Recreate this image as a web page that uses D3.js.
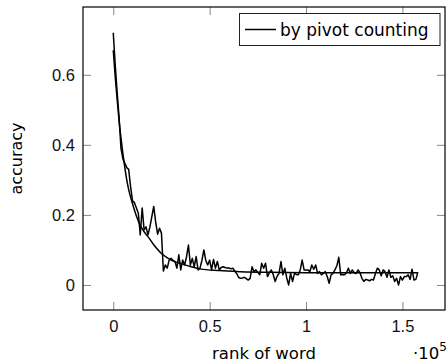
<!DOCTYPE html>
<html>
<head>
<meta charset="UTF-8">
<title>accuracy by rank</title>
<style>
    body { margin: 0; padding: 0; background: #fff; }
    svg { display: block; font-family: "DejaVu Sans", sans-serif; }
    .tick line { stroke: #888; stroke-width: 1; }
    .tick text { font-size: 16.5px; fill: #111; }
</style>
</head>
<body>
<div id="chart"></div>
<script src="https://cdn.jsdelivr.net/npm/d3@7"></script>
<script>
    // data (rank in thousands)
    const noisyRank = [0, 1, 2, 3, 4, 5, 7, 8, 9, 10, 11, 12, 13, 14, 15, 16, 17, 18, 19, 20,
        21, 22, 23, 24, 25, 26, 27, 28, 29, 30, 31, 32, 33, 34, 35, 36, 37, 38, 39, 40,
        41, 42, 43, 44, 45, 46, 47, 48, 49, 50, 51, 52, 53, 54, 55, 56, 57, 58, 59, 60,
        61, 62, 63, 64, 65, 66, 67, 68, 69, 70, 71, 72, 73, 74, 75, 76, 77, 78, 79, 80,
        81, 82, 83, 84, 85, 86, 87, 88, 89, 90, 91, 92, 93, 94, 95, 96, 97, 98, 99, 100,
        101, 102, 103, 104, 105, 106, 107, 108, 109, 110, 111, 112, 113, 114, 115, 116, 117, 118, 119, 120,
        121, 122, 123, 124, 125, 126, 127, 128, 129, 130, 131, 132, 133, 134, 135, 136, 137, 138, 139, 140,
        141, 142, 143, 144, 145, 146, 147, 148, 149, 150, 151, 152, 153, 154, 155, 156, 157, 158];
    const noisyAcc = [0.72, 0.63, 0.55, 0.48, 0.39, 0.36, 0.335, 0.33, 0.28, 0.24, 0.235, 0.22, 0.205, 0.143, 0.22, 0.157, 0.166, 0.143, 0.165, 0.195,
        0.224, 0.18, 0.145, 0.162, 0.148, 0.04, 0.057, 0.048, 0.071, 0.076, 0.07, 0.067, 0.048, 0.086, 0.043, 0.071, 0.057, 0.08, 0.114, 0.057,
        0.076, 0.052, 0.081, 0.043, 0.048, 0.07, 0.1, 0.07, 0.057, 0.071, 0.043, 0.073, 0.048, 0.067, 0.043, 0.05, 0.052, 0.05, 0.048, 0.049,
        0.046, 0.048, 0.04, 0.033, 0.022, 0.019, 0.02, 0.022, 0.018, 0.014, 0.019, 0.052, 0.038, 0.043, 0.036, 0.029, 0.062, 0.048, 0.062, 0.024,
        0.035, 0.043, 0.029, 0.01, 0.025, 0.033, 0.067, 0.029, 0.048, 0.02, 0.0, 0.033, 0.01, 0.033, 0.03, 0.029, 0.043, 0.071, 0.043, 0.043,
        0.043, 0.038, 0.057, 0.045, 0.057, 0.033, 0.038, 0.029, 0.033, 0.038, 0.024, 0.005, 0.029, 0.033, 0.043, 0.055, 0.079, 0.029, 0.03, 0.029,
        0.035, 0.048, 0.033, 0.043, 0.035, 0.033, 0.043, 0.035, 0.019, 0.01, 0.016, 0.014, 0.012, 0.016, 0.014, 0.033, 0.048, 0.043, 0.026, 0.043,
        0.038, 0.022, 0.043, 0.022, 0.026, 0.01, 0.019, 0.0, 0.024, 0.014, 0.024, 0.024, 0.029, 0.016, 0.045, 0.014, 0.016, 0.036];

    // fitted curve
    const fitRank = [0, 1, 2, 3, 4, 5, 6, 7, 8, 10, 12, 14, 16, 18, 21, 25, 28.5, 32, 35, 40, 45, 55, 66, 80, 100, 130, 158];
    const fitAcc = [0.67, 0.595, 0.53, 0.47, 0.42, 0.375, 0.335, 0.30, 0.272, 0.232, 0.197, 0.17, 0.152, 0.138, 0.115, 0.09, 0.076, 0.066, 0.061, 0.053, 0.046, 0.041, 0.038, 0.036, 0.035, 0.035, 0.035];

    const xTicks = [0, 50, 100, 150];
    const yTicks = [0, 0.2, 0.4, 0.6];
    const legendLabel = "by pivot counting";

    const w = 448, h = 363;
    const pLeft = 83, pRight = 445, pTop = 7, pBottom = 310;

    const svg = d3.select("#chart").append("svg")
        .attr("width", w).attr("height", h);

    const x = d3.scaleLinear().domain([-15.7, 172.1]).range([pLeft, pRight]);
    const y = d3.scaleLinear().domain([-0.0714, 0.7934]).range([pBottom, pTop]);

    // ticks on all four sides, pointing inward
    svg.append("g").attr("transform", `translate(0,${pBottom})`)
        .call(d3.axisBottom(x).tickValues(xTicks).tickSize(-8).tickPadding(10.5)
            .tickFormat(d => d3.format("")(d / 100)))
        .call(g => g.select(".domain").remove());
    svg.append("g").attr("transform", `translate(0,${pTop})`)
        .call(d3.axisTop(x).tickValues(xTicks).tickSize(-8).tickFormat(""))
        .call(g => g.select(".domain").remove());
    svg.append("g").attr("transform", `translate(${pLeft},0)`)
        .call(d3.axisLeft(y).tickValues(yTicks).tickSize(-8).tickPadding(8)
            .tickFormat(d => d3.format("")(d)))
        .call(g => g.select(".domain").remove());
    svg.append("g").attr("transform", `translate(${pRight},0)`)
        .call(d3.axisRight(y).tickValues(yTicks).tickSize(-8).tickFormat(""))
        .call(g => g.select(".domain").remove());

    const noisy = noisyRank.map((r, i) => [r, noisyAcc[i]]);
    const fit = fitRank.map((r, i) => [r, fitAcc[i]]);

    const line = d3.line().x(d => x(d[0])).y(d => y(d[1]));

    svg.append("path").datum(noisy)
        .attr("d", line)
        .attr("fill", "none").attr("stroke", "#000").attr("stroke-width", 1.5)
        .attr("stroke-linejoin", "round");

    svg.append("path").datum(fit)
        .attr("d", line.curve(d3.curveMonotoneX))
        .attr("fill", "none").attr("stroke", "#000").attr("stroke-width", 1.5);

    // box
    svg.append("rect")
        .attr("x", pLeft).attr("y", pTop)
        .attr("width", pRight - pLeft).attr("height", pBottom - pTop)
        .attr("fill", "none").attr("stroke", "#000").attr("stroke-width", 1.2);

    // legend
    const lg = svg.append("g");
    lg.append("rect")
        .attr("x", 239.5).attr("y", 13.5).attr("width", 200.5).attr("height", 32)
        .attr("fill", "#fff").attr("stroke", "#222").attr("stroke-width", 1);
    lg.append("line")
        .attr("x1", 245).attr("x2", 276).attr("y1", 29.5).attr("y2", 29.5)
        .attr("stroke", "#000").attr("stroke-width", 1.5);
    lg.append("text")
        .attr("x", 280).attr("y", 36)
        .style("font-size", "17px")
        .text(legendLabel);

    // axis labels
    svg.append("text")
        .attr("x", (pLeft + pRight) / 2).attr("y", 359)
        .attr("text-anchor", "middle")
        .style("font-size", "16.5px")
        .text("rank of word");

    const mult = svg.append("text")
        .attr("x", 447).attr("y", 359)
        .attr("text-anchor", "end")
        .style("font-size", "16.5px");
    mult.append("tspan").text("·10");
    mult.append("tspan").attr("dy", -8).style("font-size", "12px").text("5");

    svg.append("text")
        .attr("transform", `translate(22,${(pTop + pBottom) / 2}) rotate(-90)`)
        .attr("text-anchor", "middle")
        .style("font-size", "16px")
        .text("accuracy");
</script>
</body>
</html>
